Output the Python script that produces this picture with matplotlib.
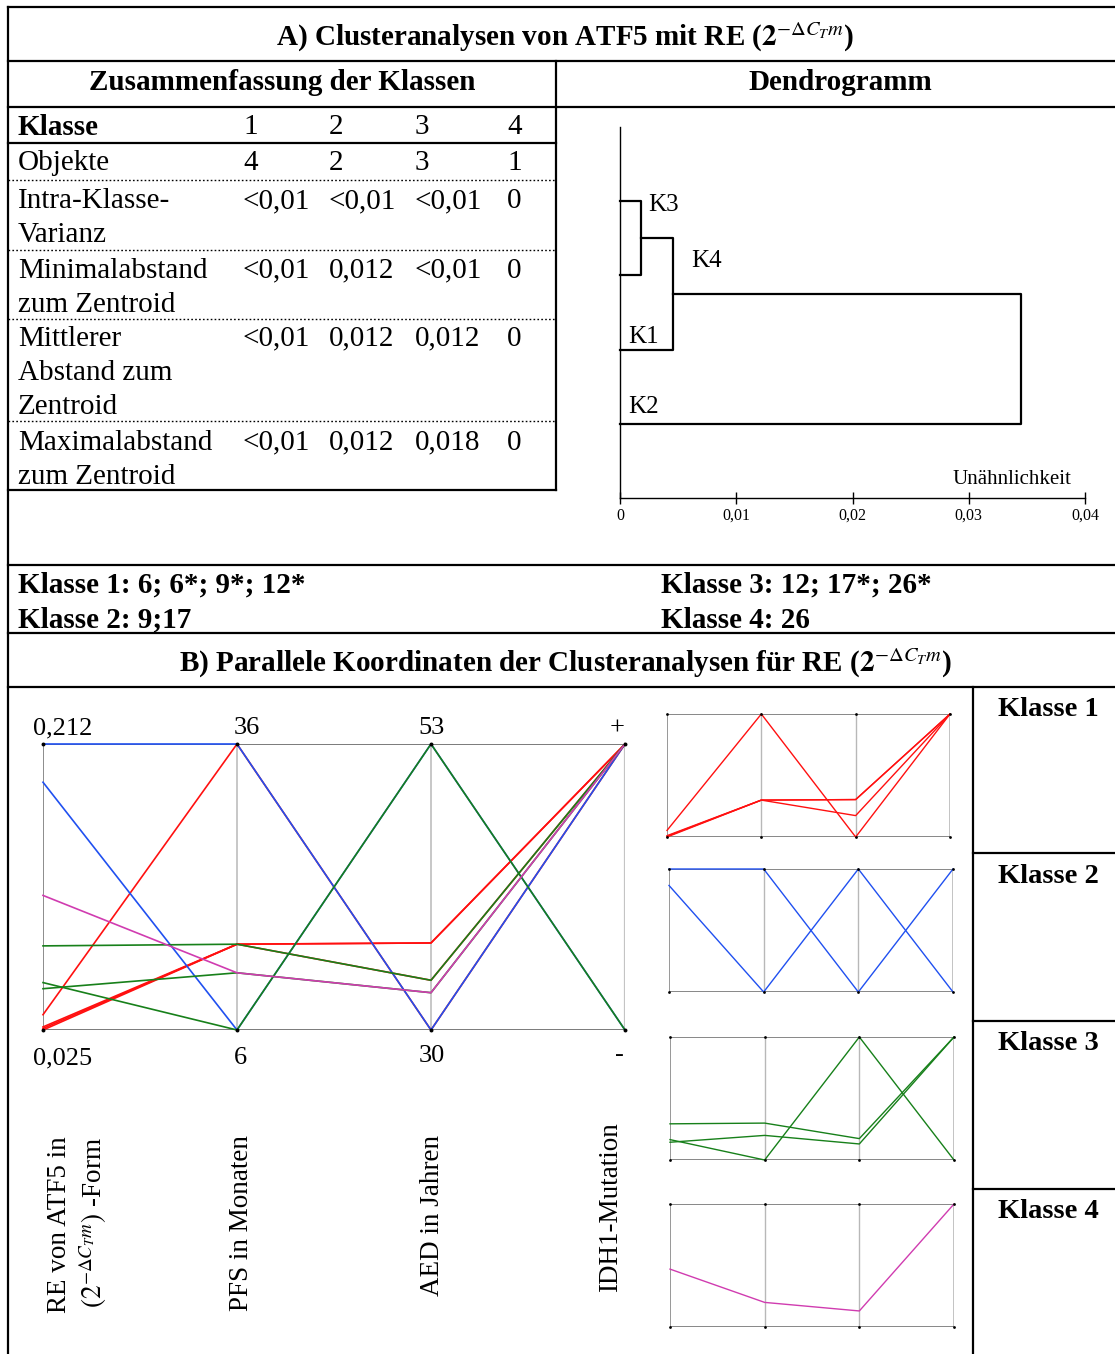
import matplotlib
matplotlib.use("Agg")
import matplotlib.pyplot as plt
import numpy as np

W, H = 1115, 1354
plt.rcParams['font.family'] = ['Liberation Serif', 'DejaVu Serif']
plt.rcParams['mathtext.fontset'] = 'stix'

# ---------------- data ----------------
table_header = ["Klasse", "1", "2", "3", "4"]
row_labels = [["Objekte"], ["Intra-Klasse-", "Varianz"], ["Minimalabstand", "zum Zentroid"],
              ["Mittlerer", "Abstand zum", "Zentroid"], ["Maximalabstand", "zum Zentroid"]]
row_values = [["4", "2", "3", "1"],
              ["<0,01", "<0,01", "<0,01", "0"],
              ["<0,01", "0,012", "<0,01", "0"],
              ["<0,01", "0,012", "0,012", "0"],
              ["<0,01", "0,012", "0,018", "0"]]

dendro_leaves = ["K3", "K4", "K1", "K2"]
# merges (node a, node b, height); nodes 0-3 leaves, 4+ merged clusters
dendro_merges = [(0, 1, 0.0018), (4, 2, 0.0046), (5, 3, 0.0345)]
dendro_ticks = [0, 0.01, 0.02, 0.03, 0.04]
dendro_ticklabels = ["0", "0,01", "0,02", "0,03", "0,04"]

members = ["Klasse 1: 6; 6*; 9*; 12*", "Klasse 2: 9;17", "Klasse 3: 12; 17*; 26*", "Klasse 4: 26"]

pc_min = [0.025, 6, 30, 0]
pc_max = [0.212, 36, 53, 1]
pc_top_labels = ["0,212", "36", "53", "+"]
pc_bottom_labels = ["0,025", "6", "30", "-"]

re_values = [0.035, 0.027, 0.026, 0.025, 0.212, 0.187, 0.080, 0.052, 0.056, 0.113]
pfs_values = [36, 15, 15, 15, 36, 6, 15, 12, 6, 12]
aed_values = [30, 37, 37, 34, 30, 53, 34, 33, 53, 33]
idh_values = [1, 1, 1, 1, 1, 0, 1, 1, 0, 1]
klasse = [1, 1, 1, 1, 2, 2, 3, 3, 3, 4]
class_colors = {1: "#ff1010", 2: "#2050f0", 3: "#17801a", 4: "#d03cb0"}
class_names = ["Klasse 1", "Klasse 2", "Klasse 3", "Klasse 4"]

# ---------------- figure ----------------
fig = plt.figure(figsize=(W / 100, H / 100), dpi=100)


def px_axes(x0, y0, x1, y1):
    ax = fig.add_axes([x0 / W, 1 - y1 / H, (x1 - x0) / W, (y1 - y0) / H])
    ax.patch.set_visible(False)
    return ax


lay = fig.add_axes([0, 0, 1, 1])
lay.set_xlim(0, W)
lay.set_ylim(H, 0)
lay.axis('off')

DY = 2.5  # visual centre correction
def txt(x, y, s, **kw):
    kw.setdefault('va', 'center')
    lay.text(x, y + DY, s, **kw)

LW = 1.6
def hl(y, x0, x1, lw=LW, **kw):
    lay.plot([x0, x1], [y, y], color='black', lw=lw, solid_capstyle='projecting', **kw)
def vl(x, y0, y1, lw=LW, **kw):
    lay.plot([x, x], [y0, y1], color='black', lw=lw, solid_capstyle='projecting', **kw)

# frame lines
vl(8, 7, H)
hl(7, 8, W)
hl(61, 8, W)
hl(107, 8, W)
vl(556, 61, 490)
hl(490, 8, 556)
hl(143, 8, 556)
for yy in [180, 250, 319, 421]:
    lay.plot([8, 556], [yy, yy], color='black', lw=1.0, linestyle=(0, (1.2, 1.6)))
hl(565, 8, W)
hl(633, 8, W)
hl(687, 8, W)
vl(973, 687, H)
for yy in [853, 1021, 1189]:
    hl(yy, 973, W)

# headings
FS = 21
title_a = r"A) Clusteranalysen von ATF5 mit RE ($\mathbf{2}^{-\Delta C_T m}$)"
title_b = r"B) Parallele Koordinaten der Clusteranalysen für RE ($\mathbf{2}^{-\Delta C_T m}$)"
txt(565, 35, title_a, ha='center', fontsize=FS, fontweight='bold')
txt(282, 80, "Zusammenfassung der Klassen", ha='center', fontsize=FS, fontweight='bold')
txt(840, 80, "Dendrogramm", ha='center', fontsize=FS, fontweight='bold')
txt(565, 661, title_b, ha='center', fontsize=FS, fontweight='bold')

# table
col_x = [18, 243, 329, 415, 507]
for i, t in enumerate(table_header):
    txt(col_x[i], 125, t, ha='left', fontsize=FS, fontweight='bold' if i == 0 else 'normal')
row_first_y = [161, 199, 268, 336, 440]
line_h = 34
for r, (labs, vals) in enumerate(zip(row_labels, row_values)):
    for k, lab in enumerate(labs):
        txt(col_x[0], row_first_y[r] + k * line_h, lab, ha='left', fontsize=FS)
    for c, v in enumerate(vals):
        txt(col_x[c + 1], row_first_y[r], v, ha='left', fontsize=FS)

# members
mem_pos = [(18, 583), (18, 618), (661, 583), (661, 618)]
for (x, y), t in zip(mem_pos, members):
    txt(x, y, t, ha='left', fontsize=FS, fontweight='bold')

# ---------------- dendrogram ----------------
dax = px_axes(620, 127, 1085, 498)
dax.set_xlim(0, 0.04)
dax.set_ylim(0, 5)
leaf_y = [4, 3, 2, 1]
node_x = [0.0] * len(dendro_leaves)
node_y = list(leaf_y)
for a, b, h in dendro_merges:
    dax.plot([node_x[a], h, h, node_x[b]], [node_y[a], node_y[a], node_y[b], node_y[b]],
             color='black', lw=1.6, clip_on=False)
    node_x.append(h)
    node_y.append((node_y[a] + node_y[b]) / 2)
for s in ['top', 'right']:
    dax.spines[s].set_visible(False)
dax.spines['left'].set_linewidth(1.0)
dax.spines['bottom'].set_linewidth(1.0)
dax.set_yticks([])
dax.set_xticks(dendro_ticks)
dax.set_xticklabels(dendro_ticklabels, fontsize=11.5)
dax.tick_params(axis='x', direction='inout', length=8, width=1, pad=3)
leaf_label_pos = [(0.0024, 3.95), (0.0061, 3.19), (0.0007, 2.17), (0.0007, 1.22)]
for (x, y), lab in zip(leaf_label_pos, dendro_leaves):
    dax.text(x, y, lab, ha='left', va='center', fontsize=18)
dax.text(0.0388, 0.25, "Unähnlichkeit", ha='right', va='center', fontsize=15)

# ---------------- parallel coordinates ----------------
data = np.array([re_values, pfs_values, aed_values, idh_values], dtype=float).T
mins = np.array(pc_min, dtype=float)
maxs = np.array(pc_max, dtype=float)
norm = (data - mins) / (maxs - mins)
xs = np.arange(4)


def draw_frame(ax, lw_scale=1.0, dot=4):
    ax.set_xlim(0, 3)
    ax.set_ylim(0, 1)
    ax.axis('off')
    ax.vlines([1, 2], 0, 1, colors='#b8b8b8', lw=1.1 * lw_scale, zorder=1)
    ax.vlines([0], 0, 1, colors='#8c8c8c', lw=1.4 * lw_scale, zorder=1)
    ax.vlines([3], 0, 1, colors='#c4c4c4', lw=1.6 * lw_scale, zorder=1)
    ax.hlines([0, 1], 0, 3, colors='#7a7a7a', lw=1.4 * lw_scale, zorder=1)
    for yv in [0, 1]:
        ax.scatter(xs, [yv] * 4, s=dot, color='black', zorder=5, clip_on=False, linewidths=0)


main = px_axes(43, 744, 625, 1030)
draw_frame(main, dot=8)
order = [1, 2, 3, 4]
for k in order:
    for i in range(len(klasse)):
        if klasse[i] == k:
            main.plot(xs, norm[i], color=class_colors[k], lw=1.2, zorder=3, clip_on=False)

top_lab_pos = [(63, 726), (247, 726), (432, 726), (617, 726)]
bot_lab_pos = [(63, 1056), (240, 1056), (432, 1053), (619, 1053)]
for (x, y), t in zip(top_lab_pos, pc_top_labels):
    txt(x, y, t, ha='center', fontsize=19)
for (x, y), t in zip(bot_lab_pos, pc_bottom_labels):
    txt(x, y, t, ha='center', fontsize=19)

axis_titles = [("RE von ATF5 in", 57, 1225), (r"$(2^{-\Delta C_T m})$ -Form", 91, 1223),
               ("PFS in Monaten", 239, 1223), ("AED in Jahren", 430, 1216), ("IDH1-Mutation", 608, 1207)]
for t, x, y in axis_titles:
    lay.text(x + DY, y, t, ha='center', va='center', rotation=90, fontsize=19.5)

# small multiples
sm_boxes = [(667, 714, 950, 837), (669, 869, 953, 992), (670, 1037, 954, 1160), (670, 1204, 954, 1327)]
for k, box in zip(order, sm_boxes):
    ax = px_axes(*box)
    draw_frame(ax, 0.9, dot=4)
    for i in range(len(klasse)):
        if klasse[i] == k:
            ax.plot(xs, norm[i], color=class_colors[k], lw=1.0, zorder=3, clip_on=False)

cls_label_y = [707, 874, 1041, 1209]
for y, t in zip(cls_label_y, class_names):
    txt(1048, y, t, ha='center', fontsize=20.5, fontweight='bold')

fig.savefig("out.png", dpi=100)
